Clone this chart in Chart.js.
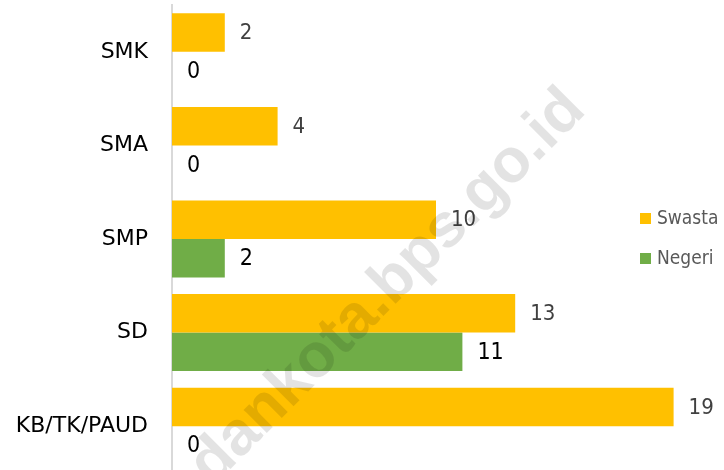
<!DOCTYPE html>
<html>
<head>
<meta charset="utf-8">
<script src="https://cdn.jsdelivr.net/npm/chart.js"></script>
<style>
  html, body { margin: 0; padding: 0; background: #fff; overflow: hidden; }
  #wrap { width: 724px; height: 473px; }
</style>
</head>
<body>
<div id="wrap"><canvas id="schoolChart" width="724" height="473"></canvas></div>
<script>
// data
const categories = ["SMK", "SMA", "SMP", "SD", "KB/TK/PAUD"];
const swasta = [2, 4, 10, 13, 19];
const negeri = [0, 0, 2, 11, 0];
const seriesNames = ["Swasta", "Negeri"];
const watermarkText = "dankota.bps.go.id";

const ORANGE = "#FFC000";
const GREEN = "#70AD47";
const FONT = "'DejaVu Sans Condensed', 'DejaVu Sans', sans-serif";

// value labels next to each bar end
const valueLabels = {
  id: "valueLabels",
  afterDatasetsDraw(chart) {
    const ctx = chart.ctx;
    ctx.save();
    ctx.textBaseline = "middle";
    ctx.textAlign = "left";
    chart.data.datasets.forEach((ds, i) => {
      const meta = chart.getDatasetMeta(i);
      if (i === 0) {
        ctx.font = "22px " + FONT;
        ctx.fillStyle = "#404040";
      } else {
        ctx.font = "23px " + FONT;
        ctx.fillStyle = "#000000";
      }
      meta.data.forEach((bar, j) => {
        ctx.fillText(String(ds.data[j]), bar.x + 15, bar.y + 1);
      });
    });
    ctx.restore();
  }
};

// legend on the right, on top of the plot
const sideLegend = {
  id: "sideLegend",
  afterDraw(chart) {
    const ctx = chart.ctx;
    ctx.save();
    ctx.font = "19px " + FONT;
    ctx.textBaseline = "middle";
    ctx.textAlign = "left";
    chart.data.datasets.forEach((ds, i) => {
      const y = 213 + i * 40;
      ctx.fillStyle = ds.backgroundColor;
      ctx.fillRect(640, y, 11, 11);
      ctx.fillStyle = "#595959";
      ctx.fillText(ds.label, 657, y + 6);
    });
    ctx.restore();
  }
};

// faint site watermark across the plot
const watermark = {
  id: "watermark",
  afterDraw(chart) {
    const ctx = chart.ctx;
    ctx.save();
    ctx.font = "bold 62px 'Liberation Sans', Arial, sans-serif";
    ctx.fillStyle = "rgba(0, 0, 0, 0.11)";
    ctx.translate(474, 220);
    ctx.rotate(-45 * Math.PI / 180);
    const head = ctx.measureText("dankota.bps").width;
    const dot = ctx.measureText(".").width;
    ctx.textBaseline = "alphabetic";
    ctx.fillText(watermarkText, -(head + dot / 2), 4);
    ctx.restore();
  }
};

new Chart(document.getElementById("schoolChart"), {
  type: "bar",
  data: {
    labels: categories,
    datasets: [
      { label: seriesNames[0], data: swasta, backgroundColor: ORANGE },
      { label: seriesNames[1], data: negeri, backgroundColor: GREEN }
    ]
  },
  options: {
    indexAxis: "y",
    responsive: false,
    animation: false,
    devicePixelRatio: 1,
    layout: { padding: { top: 5, right: 24, bottom: 0, left: 0 } },
    datasets: { bar: { barPercentage: 1, categoryPercentage: 0.823 } },
    plugins: {
      legend: { display: false },
      tooltip: { enabled: false }
    },
    scales: {
      x: { min: 0, max: 20, display: false },
      y: {
        afterFit(scale) {
          // fixed axis position, no extra vertical padding from tick padding
          scale.width = 172;
          scale.paddingTop = 0;
          scale.paddingBottom = 0;
        },
        grid: { display: false, drawTicks: false },
        border: { display: true, color: "#d9d9d9", width: 2 },
        ticks: {
          padding: 24,
          color: "#000000",
          font: { family: "'DejaVu Sans', sans-serif", size: 22 }
        }
      }
    }
  },
  plugins: [valueLabels, sideLegend, watermark]
});
</script>
</body>
</html>
